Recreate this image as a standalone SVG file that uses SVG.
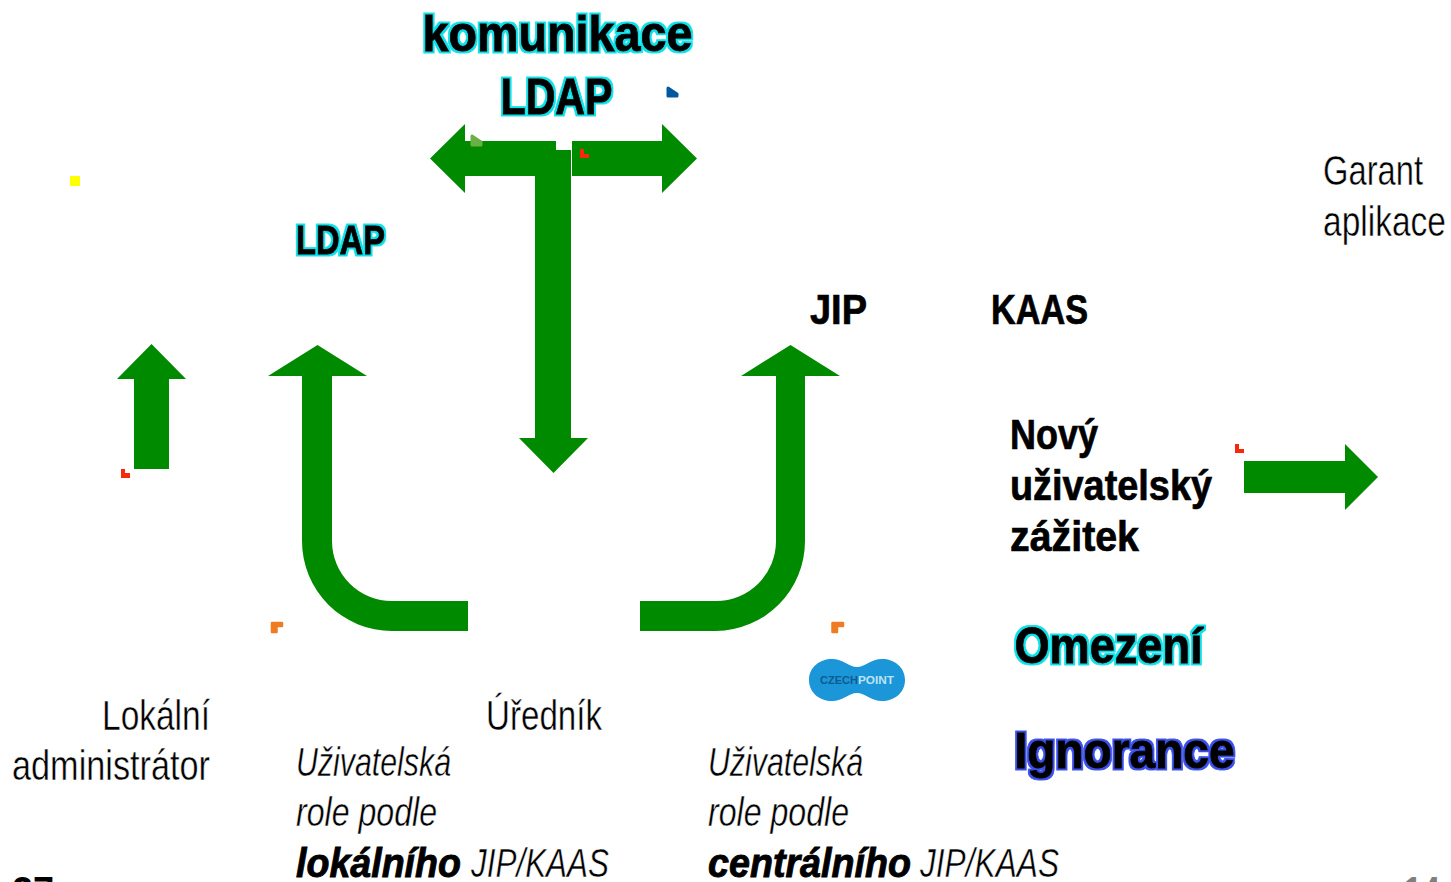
<svg xmlns="http://www.w3.org/2000/svg" width="1451" height="882" viewBox="0 0 1451 882">
<defs>
<filter id="oc" x="-10%" y="-20%" width="120%" height="140%" color-interpolation-filters="sRGB">
<feMorphology in="SourceAlpha" operator="dilate" radius="2" result="w"/>
<feFlood flood-color="#0fe0e8"/><feComposite in2="w" operator="in" result="e"/>
<feMerge><feMergeNode in="e"/><feMergeNode in="SourceGraphic"/></feMerge>
</filter>
<filter id="ou" x="-10%" y="-20%" width="120%" height="140%" color-interpolation-filters="sRGB">
<feMorphology in="SourceAlpha" operator="dilate" radius="2" result="w"/>
<feFlood flood-color="#3a4fe8"/><feComposite in2="w" operator="in" result="e"/>
<feMerge><feMergeNode in="e"/><feMergeNode in="SourceGraphic"/></feMerge>
</filter>
</defs>
<style>
text{font-family:"Liberation Sans",Arial,sans-serif;fill:#000}
.l{font-size:42px;stroke:#fff;stroke-width:.45px}
.i{font-size:40px;font-style:italic;stroke:#fff;stroke-width:.45px}
.ib{font-size:40px;font-style:italic;font-weight:bold;stroke:#000;stroke-width:.9px}
.b{font-weight:bold;font-size:42px;stroke:#000;stroke-width:.7px}
.o{font-weight:bold;stroke:#000;stroke-width:.8px}
.c{filter:url(#oc)}
.u{filter:url(#ou)}
.a{fill:#008a00}
.r{fill:#f8280a}
</style>
<g id="connectors">
<path class="a" d="M430 158.500L465 124V141H556V150H571V438H588L553.500 473L519 438H535V176H465V193Z"/>
<path class="a" d="M572 141H662V124L697 158.500L662 193V176H572Z"/>
<path class="a" d="M134 469V379H117L151.500 344L186 379H169V469Z"/>
<path class="a" d="M468 631H392A90 90 0 0 1 302 541V376H268L317.500 345L367 376H332V541A60 60 0 0 0 392 601H468Z"/>
<path class="a" d="M640 631H716A90 90 0 0 0 805 541V376H840L790.500 345L741 376H776V541A60 60 0 0 1 716 601H640Z"/>
<path class="a" d="M1244 461H1345V444L1378 477L1345 510V493H1244Z"/>
</g>
<g id="markers">
<path class="r" d="M121 469h4v4h5v5h-9Z"/>
<path class="r" d="M580 149h4v5h5v4h-9Z"/>
<path class="r" d="M1235 444h4v5h5v4h-9Z"/>
<path fill="#ffff00" d="M70 176h10v10h-10Z"/>
<path fill="#00589f" stroke="#00589f" stroke-width="3" stroke-linejoin="round" d="M668 88L677 94V96H668Z"/>
<path fill="#6ab044" stroke="#6ab044" stroke-width="3" stroke-linejoin="round" d="M472 136L481 142V145H472Z"/>
<path fill="#ef7b22" stroke="#ef7b22" stroke-width="2.500" stroke-linejoin="round" d="M272 623H282V626H276.500V632H272Z"/>
<path fill="#ef7b22" stroke="#ef7b22" stroke-width="2.500" stroke-linejoin="round" d="M832.500 623H843V626H837V632H832.500Z"/>
</g>
<g id="title">
<text class="o c" x="422.500" y="51" font-size="50" textLength="270" lengthAdjust="spacingAndGlyphs">komunikace</text>
<text class="o c" x="500.500" y="114" font-size="50" textLength="112" lengthAdjust="spacingAndGlyphs">LDAP</text>
</g>
<g id="ldap"><text class="o c" x="296" y="254" font-size="40" textLength="89" lengthAdjust="spacingAndGlyphs">LDAP</text></g>
<g id="garant">
<text class="l" x="1323" y="185" textLength="100" lengthAdjust="spacingAndGlyphs">Garant</text>
<text class="l" x="1323" y="236" textLength="123" lengthAdjust="spacingAndGlyphs">aplikace</text>
</g>
<g id="jip"><text class="b" x="810" y="324" textLength="57" lengthAdjust="spacingAndGlyphs">JIP</text></g>
<g id="kaas"><text class="b" x="991" y="324" textLength="97" lengthAdjust="spacingAndGlyphs">KAAS</text></g>
<g id="novy">
<text class="b" x="1010" y="449" textLength="88" lengthAdjust="spacingAndGlyphs">Nový</text>
<text class="b" x="1010" y="500" textLength="202" lengthAdjust="spacingAndGlyphs">uživatelský</text>
<text class="b" x="1010" y="551" textLength="129" lengthAdjust="spacingAndGlyphs">zážitek</text>
</g>
<g id="omezeni"><text class="o c" x="1014.500" y="663" font-size="50" textLength="188" lengthAdjust="spacingAndGlyphs">Omezení</text></g>
<g id="ignorance"><text class="o u" x="1014.500" y="768" font-size="50" textLength="220" lengthAdjust="spacingAndGlyphs">Ignorance</text></g>
<g id="czechpoint">
<path fill="#1b96d8" d="M809 680C809 667 820 659 832 659C843 659 849 667 857 667C865 667 871 659 882 659C894 659 905 667 905 680C905 693 894 701 882 701C871 701 865 693 857 693C849 693 843 701 832 701C820 701 809 693 809 680Z"/>
<text x="820" y="684" font-size="11" font-weight="bold" style="fill:#0d5c8f" textLength="38" lengthAdjust="spacingAndGlyphs">CZECH</text>
<text x="858" y="684" font-size="11" font-weight="bold" style="fill:#bfe3f5" textLength="36" lengthAdjust="spacingAndGlyphs">POINT</text>
</g>
<g id="lokalni">
<text class="l" x="102" y="730" textLength="108" lengthAdjust="spacingAndGlyphs">Lokální</text>
<text class="l" x="12" y="780" textLength="198" lengthAdjust="spacingAndGlyphs">administrátor</text>
</g>
<g id="urednik"><text class="l" x="486" y="730" textLength="116" lengthAdjust="spacingAndGlyphs">Úředník</text></g>
<g id="role-lokalni">
<text class="i" x="296" y="776" textLength="155" lengthAdjust="spacingAndGlyphs">Uživatelská</text>
<text class="i" x="296" y="826" textLength="141" lengthAdjust="spacingAndGlyphs">role podle</text>
<text class="ib" x="296" y="877" textLength="165" lengthAdjust="spacingAndGlyphs">lokálního</text>
<text class="i" x="471" y="877" textLength="138" lengthAdjust="spacingAndGlyphs">JIP/KAAS</text>
</g>
<g id="role-centralni">
<text class="i" x="708" y="776" textLength="155" lengthAdjust="spacingAndGlyphs">Uživatelská</text>
<text class="i" x="708" y="826" textLength="141" lengthAdjust="spacingAndGlyphs">role podle</text>
<text class="ib" x="708" y="877" textLength="203" lengthAdjust="spacingAndGlyphs">centrálního</text>
<text class="i" x="920" y="877" textLength="139" lengthAdjust="spacingAndGlyphs">JIP/KAAS</text>
</g>
<g id="page">
<text x="12" y="905" font-size="40" font-weight="bold" textLength="42" lengthAdjust="spacingAndGlyphs">27</text>
<text x="1404" y="905" font-size="40" font-weight="bold" style="fill:#7f7f7f" textLength="36" lengthAdjust="spacingAndGlyphs">14</text>
</g>
</svg>
